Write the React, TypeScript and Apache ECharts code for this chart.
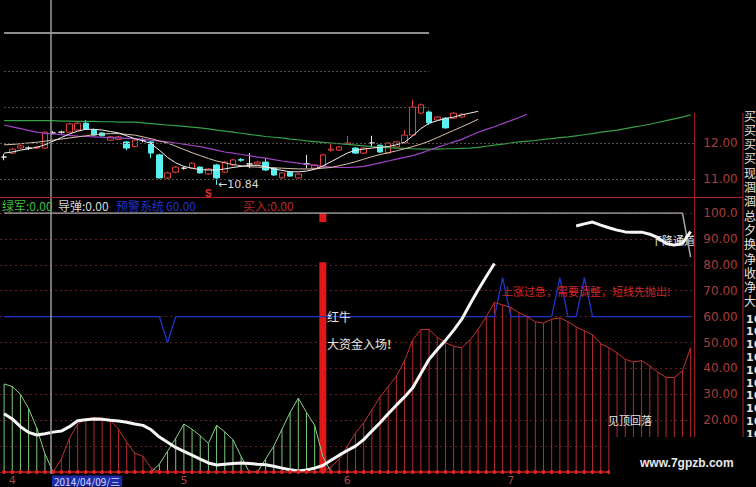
import React, { useEffect, useRef } from 'react';
import * as echarts from 'echarts';

// ---------- layout ----------
const CHART_W = 756;
const CHART_H = 487;
const BAR_COUNT = 85;
const BAR_STEP = 8.2;
const PLOT_LEFT = -2.3;
const PLOT_W = BAR_COUNT * BAR_STEP;
const PRICE_H = 197;
const PRICE_MIN = 10.5;
const PRICE_MAX = 10.5 + 197 / 36;
const IND_TOP = 213;
const IND_H = 259;
const AXIS_X = PLOT_LEFT + PLOT_W;
const barX = (i: number) => PLOT_LEFT + (i + 0.5) * BAR_STEP;

const CJK = "'Noto Sans CJK SC', 'Noto Sans', sans-serif";
const NUM = "'DejaVu Sans', 'Liberation Sans', sans-serif";

// ---------- data ----------
const categories = Array.from({ length: BAR_COUNT }, (_, i) => String(i + 1));
const monthTickIndex = [1, 22, 42, 62];
const monthTickLabels = ['4', '5', '6', '7'];
const cursorIndex = 6;
const cursorDate = '2014/04/09/三';

// [open, close, low, high]
const candles: number[][] = [
  [11.61, 11.61, 11.52, 11.70],
  [11.72, 11.83, 11.70, 11.86],
  [11.86, 11.92, 11.84, 11.95],
  [11.86, 11.86, 11.80, 11.91],
  [11.86, 11.89, 11.83, 11.92],
  [11.86, 12.30, 11.84, 12.32],
  [12.28, 12.28, 12.24, 12.33],
  [12.30, 12.30, 12.26, 12.34],
  [12.30, 12.53, 12.28, 12.56],
  [12.36, 12.55, 12.34, 12.58],
  [12.55, 12.39, 12.36, 12.64],
  [12.36, 12.22, 12.20, 12.40],
  [12.28, 12.20, 12.18, 12.30],
  [12.08, 12.17, 12.06, 12.19],
  [12.10, 12.17, 12.08, 12.20],
  [12.03, 11.86, 11.80, 12.05],
  [11.90, 12.08, 11.88, 12.10],
  [12.08, 12.08, 12.02, 12.14],
  [12.03, 11.72, 11.58, 12.06],
  [11.67, 11.03, 11.01, 11.70],
  [11.03, 11.17, 11.00, 11.20],
  [11.19, 11.33, 11.16, 11.36],
  [11.30, 11.30, 11.26, 11.34],
  [11.30, 11.44, 11.28, 11.47],
  [11.33, 11.17, 11.15, 11.35],
  [11.14, 11.28, 11.12, 11.30],
  [11.39, 11.03, 10.84, 11.42],
  [11.19, 11.47, 11.17, 11.50],
  [11.39, 11.53, 11.37, 11.56],
  [11.54, 11.52, 11.48, 11.58],
  [11.42, 11.42, 11.30, 11.72],
  [11.42, 11.47, 11.40, 11.50],
  [11.47, 11.25, 11.22, 11.58],
  [11.30, 11.11, 11.09, 11.33],
  [11.03, 11.17, 11.01, 11.19],
  [11.19, 11.08, 11.06, 11.21],
  [11.03, 11.14, 11.01, 11.16],
  [11.42, 11.42, 11.30, 11.67],
  [11.30, 11.39, 11.28, 11.41],
  [11.33, 11.67, 11.31, 11.70],
  [11.80, 11.83, 11.76, 11.97],
  [11.80, 11.89, 11.78, 11.91],
  [11.97, 12.00, 11.95, 12.20],
  [11.86, 11.72, 11.70, 11.88],
  [11.72, 11.86, 11.70, 11.88],
  [12.00, 12.00, 11.90, 12.20],
  [11.94, 11.75, 11.73, 11.96],
  [11.72, 12.00, 11.70, 12.02],
  [11.89, 12.03, 11.87, 12.05],
  [12.00, 12.22, 11.98, 12.36],
  [12.22, 13.00, 12.20, 13.20],
  [12.83, 13.06, 12.80, 13.10],
  [12.86, 12.56, 12.50, 12.90],
  [12.64, 12.72, 12.62, 12.75],
  [12.69, 12.42, 12.40, 12.72],
  [12.69, 12.83, 12.67, 12.86],
  [12.72, 12.80, 12.70, 12.83],
];

const ma5 = [
  11.72, 11.75, 11.80, 11.84, 11.88, 11.95, 12.05, 12.15, 12.25, 12.33,
  12.38, 12.38, 12.36, 12.32, 12.28, 12.20, 12.12, 12.06, 11.98, 11.80,
  11.60, 11.45, 11.35, 11.30, 11.26, 11.25, 11.25, 11.28, 11.32, 11.35,
  11.38, 11.38, 11.34, 11.28, 11.24, 11.20, 11.20, 11.22, 11.27, 11.36,
  11.48, 11.60, 11.72, 11.80, 11.83, 11.86, 11.88, 11.90, 11.95, 12.02,
  12.20, 12.40, 12.55, 12.62, 12.68, 12.72, 12.78, 12.83, 12.88,
];
const ma10 = [
  11.95, 11.96, 11.98, 12.00, 12.02, 12.05, 12.08, 12.11, 12.14, 12.17,
  12.20, 12.23, 12.25, 12.26, 12.26, 12.24, 12.22, 12.17, 12.12, 12.06,
  12.00, 11.91, 11.82, 11.73, 11.65, 11.57, 11.50, 11.45, 11.40, 11.37,
  11.34, 11.33, 11.32, 11.31, 11.30, 11.29, 11.28, 11.28, 11.28, 11.30,
  11.32, 11.37, 11.42, 11.48, 11.55, 11.62, 11.68, 11.73, 11.78, 11.84,
  11.90, 11.97, 12.05, 12.15, 12.25, 12.35, 12.45, 12.55, 12.66,
];
const ma30 = [
  12.50, 12.45, 12.40, 12.35, 12.30, 12.27, 12.25, 12.23, 12.21, 12.19,
  12.18, 12.17, 12.16, 12.15, 12.14, 12.13, 12.12, 12.10, 12.08, 12.05,
  12.03, 12.00, 11.97, 11.93, 11.90, 11.85, 11.80, 11.75, 11.72, 11.68,
  11.65, 11.61, 11.58, 11.54, 11.50, 11.47, 11.44, 11.41, 11.38, 11.35,
  11.33, 11.32, 11.32, 11.33, 11.35, 11.40, 11.45, 11.50, 11.55, 11.60,
  11.65, 11.72, 11.80, 11.88, 11.95, 12.03, 12.10, 12.20, 12.30, 12.38,
  12.45, 12.54, 12.62, 12.71, 12.80,
];
const ma60 = [
  12.62, 12.62, 12.62, 12.62, 12.62, 12.62, 12.62, 12.61, 12.61, 12.60,
  12.60, 12.60, 12.59, 12.59, 12.58, 12.58, 12.58, 12.56, 12.54, 12.52,
  12.50, 12.48, 12.46, 12.44, 12.42, 12.39, 12.36, 12.33, 12.30, 12.27,
  12.24, 12.21, 12.18, 12.16, 12.14, 12.11, 12.09, 12.06, 12.04, 12.02,
  12.00, 11.98, 11.96, 11.94, 11.92, 11.90, 11.89, 11.87, 11.86, 11.85,
  11.84, 11.83, 11.83, 11.83, 11.84, 11.84, 11.85, 11.86, 11.88, 11.91,
  11.94, 11.97, 12.00, 12.03, 12.05, 12.07, 12.10, 12.12, 12.15, 12.17,
  12.20, 12.23, 12.26, 12.30, 12.33, 12.36, 12.40, 12.44, 12.48, 12.52,
  12.57, 12.62, 12.67, 12.72, 12.78,
];

const lowMarkIndex = 26;
const lowMarkPrice = 10.84;
const sellMarkIndex = 25;
const sellMarkPrice = 10.6;

// indicator panel
const redHist: (number | null)[] = [
  null, null, null, null, null, null,
  0, 5, 13, 18.5, 20.5, 21, 20.8, 20, 16.5, 11.5, 7.3, 6, 1.5, 0,
  null, null, null, null, null, null, null, null, null, null,
  null, null, null, null, null, null, null, null, null,
  0, 2, 5, 10, 15, 19, 24, 29, 33, 37, 43, 51, 55, 55, 52, 50, 48.5, 48, 51, 55,
  60, 65.5, 64.5, 63.5, 61.5, 60, 58, 57.5, 59, 59.5, 58, 56, 54.5, 53, 49.5, 48,
  46, 43.5, 42.5, 43, 41, 38.5, 36.5, 36.5, 39, 48,
];
const greenHist: (number | null)[] = [
  34, 33, 30, 24.5, 17, 7, 0,
  null, null, null, null, null, null, null, null, null, null, null,
  0, 3, 8, 13, 18.5, 16.5, 14, 11, 18, 15.5, 12.5, 6, 0,
  0, 5, 10, 16.5, 23, 28.5, 23, 18, 6, 0,
  null, null, null, null, null, null, null, null, null, null, null,
  null, null, null, null, null, null, null, null, null, null, null,
  null, null, null, null, null, null, null, null, null, null, null,
  null, null, null, null, null, null, null, null, null, null, null,
];
const trendLine: (number | null)[] = [
  22.5, 20.5, 17.5, 15.3, 14.3, 14.8, 15.4, 15.8, 17.5, 19.8,
  20.2, 20.5, 20.4, 20, 19.7, 19.2, 18.5, 18, 16.3, 13.5,
  11.5, 9.5, 8, 6.5, 5, 3.5, 2.7, 3, 3.3, 3.5,
  3.3, 3, 2.8, 2.2, 1.5, 0.9, 0.4, 0.8, 1.5, 2.5,
  4.5, 6.5, 8.3, 10, 12.5, 15.8, 19, 22.5, 25.8, 29,
  32.5, 38, 43.5, 47.3, 50.8, 54.7, 59, 64.8, 70.3, 75.5,
  80.5,
  null, null, null, null, null, null, null, null, null,
  95, 95.8, 96.5, 95.3, 94.3, 93.4, 92.7, 92.6, 92.6, 91.8,
  90.5, 88.2, 87.6, 88.3, 92.8,
];
const alertLevel = 60;
const alertSpikeIndex = [20, 61, 68, 71];
const alertSpikeValue = [50, 75, 75, 75];
const ceilingLevel = 100;
const ceilingEndValue = 83;
const signalIndex = 39;
const signalValue = 81;
const signalCapFrom = 96.5;
const signalCapTo = 100;

const alertLine = categories.map((_, i) => {
  const s = alertSpikeIndex.indexOf(i);
  return s >= 0 ? alertSpikeValue[s] : alertLevel;
});
const ceilingLine = categories.map((_, i) => (i === BAR_COUNT - 1 ? ceilingEndValue : ceilingLevel));
const baseLine = categories.map(() => 0);
const onlyAt = (v: number) => categories.map((_, i) => (i === signalIndex ? v : null));

const sideChars = ['买', '买', '买', '买', '现', '涸', '涸', '总', '夕', '换', '净', '收', '净', '大'];
const sideDigits = ['16', '16', '16', '16', '16', '16', '16', '16', '16', '16'];

const monthLabelAt = (i: number) => {
  const k = monthTickIndex.indexOf(i);
  return k >= 0 ? monthTickLabels[k] : '';
};

function buildOption(): any {
  const graphic: any[] = [];
  // panel frame lines
  graphic.push({ type: 'line', z: 20, shape: { x1: 0, y1: 197.5, x2: 743, y2: 197.5 }, style: { stroke: '#b02424', lineWidth: 1 } });
  graphic.push({ type: 'line', z: 20, shape: { x1: AXIS_X, y1: 113, x2: AXIS_X, y2: 472 }, style: { stroke: '#b02424', lineWidth: 1 } });
  graphic.push({ type: 'line', z: 20, shape: { x1: 743, y1: 113, x2: 743, y2: 472 }, style: { stroke: '#b02424', lineWidth: 1 } });
  // crosshair
  const cx = barX(cursorIndex);
  graphic.push({ type: 'line', z: 15, shape: { x1: cx, y1: 0, x2: cx, y2: 474 }, style: { stroke: '#9a9a9a', lineWidth: 1.5 } });

  // header row
  const header = [
    { x: 2, text: '绿军:0.00', fill: '#3fbf46' },
    { x: 58, text: '导弹:0.00', fill: '#d8d8d8' },
    { x: 116, text: '预警系统', fill: '#2233c8' },
    { x: 166, text: '60.00', fill: '#2233c8' },
    { x: 243, text: '买入:0.00', fill: '#b8282a' },
  ];
  header.forEach((h) =>
    graphic.push({ type: 'text', z: 20, x: h.x, y: 205, style: { text: h.text, fill: h.fill, font: `12px ${CJK}`, verticalAlign: 'middle' } })
  );

  // annotations
  graphic.push({ type: 'text', z: 20, x: 327, y: 316, style: { text: '红牛', fill: '#e6e6e6', font: `12px ${CJK}`, verticalAlign: 'middle' } });
  graphic.push({
    type: 'text', z: 20, x: 327, y: 343,
    style: { text: '{a|大资金入场}{b|!}', rich: { a: { fill: '#e6e6e6', font: `12px ${CJK}` }, b: { fill: '#f0d070', font: `bold 12px ${CJK}` } }, verticalAlign: 'middle' },
  });
  graphic.push({ type: 'text', z: 20, x: 502, y: 291, style: { text: '上涨过急，需要调整，短线先抛出!', fill: '#d42626', font: `11px ${CJK}`, verticalAlign: 'middle' } });
  graphic.push({ type: 'text', z: 1, x: 651, y: 240, style: { text: '下降通道', fill: '#e6e6e6', font: `11px ${CJK}`, verticalAlign: 'middle' } });
  graphic.push({ type: 'text', z: 20, x: 608, y: 420, style: { text: '见顶回落', fill: '#e6e6e6', font: `11px ${CJK}`, verticalAlign: 'middle' } });

  // side column, running past the page edge
  sideChars.forEach((c, i) =>
    graphic.push({ type: 'text', z: 20, x: 744, y: 115 + i * 14.3, style: { text: c, fill: '#e4e4e4', font: `12px ${CJK}`, lineHeight: 12, verticalAlign: 'middle' } })
  );
  sideDigits.forEach((d, i) =>
    graphic.push({ type: 'text', z: 20, x: 746, y: 319 + i * 12.8, style: { text: d, fill: '#e4e4e4', font: `bold 11px ${NUM}`, lineHeight: 11, verticalAlign: 'middle' } })
  );

  // date tag at the cursor
  graphic.push({
    type: 'text', z: 20, x: cx + 1, y: 481,
    style: { text: cursorDate, fill: '#d6dcff', font: `10px ${CJK}`, verticalAlign: 'middle', backgroundColor: '#1d2aa8', padding: [1, 2, 0, 2] },
  });

  // bottom-right watermark block
  graphic.push({ type: 'rect', z: 100, shape: { x: 610, y: 437, width: 146, height: 50 }, style: { fill: '#000' } });
  graphic.push({ type: 'text', z: 101, x: 640, y: 463, style: { text: 'www.7gpzb.com', fill: '#e8e8e8', font: `bold 12px 'Liberation Sans', sans-serif`, verticalAlign: 'middle' } });

  const near = (a: number, b: number) => Math.abs(a - b) < 1e-6;

  return {
    backgroundColor: '#000',
    animation: false,
    graphic,
    grid: [
      { left: PLOT_LEFT, top: 0, width: PLOT_W, height: PRICE_H },
      { left: PLOT_LEFT, top: IND_TOP, width: PLOT_W, height: IND_H },
    ],
    xAxis: [
      { type: 'category', gridIndex: 0, data: categories, show: false },
      {
        type: 'category', gridIndex: 1, data: categories,
        axisLine: { show: false }, axisTick: { show: false }, splitLine: { show: false },
        axisLabel: { interval: 0, formatter: (_v: string, i: number) => monthLabelAt(i), color: '#a84444', fontSize: 11, margin: 3, fontFamily: NUM },
      },
      { type: 'category', gridIndex: 1, data: categories, show: false },
    ],
    yAxis: [
      {
        type: 'value', gridIndex: 0, position: 'right', min: PRICE_MIN, max: PRICE_MAX, interval: 0.5,
        splitLine: { show: false }, axisLine: { show: false }, axisTick: { show: false },
        axisLabel: {
          align: 'right', margin: 43, color: '#a83c3c', fontSize: 12, fontFamily: NUM,
          formatter: (v: number) => (near(v, 11) || near(v, 12) ? v.toFixed(2) : ''),
        },
      },
      {
        type: 'value', gridIndex: 1, position: 'right', min: 0, max: 100, interval: 10,
        splitLine: { show: true, lineStyle: { color: '#6a1e1e', type: [2, 3], width: 1 } },
        axisLine: { show: false }, axisTick: { show: false },
        axisLabel: {
          align: 'right', margin: 43, color: '#a83c3c', fontSize: 12, fontFamily: NUM,
          formatter: (v: number) => (v < 20 ? '' : near(v, 100) ? '100.0' : v.toFixed(2)),
        },
      },
    ],
    series: [
      {
        type: 'candlestick', name: 'K', xAxisIndex: 0, yAxisIndex: 0, data: candles, barWidth: 6,
        itemStyle: { color: '#000', color0: '#5af0f0', borderColor: '#e0403c', borderColor0: '#5af0f0', borderColorDoji: '#e8e8e8', borderWidth: 1 },
        markLine: {
          silent: true, symbol: ['none', 'none'], label: { show: false },
          lineStyle: { color: '#4e4e4e', type: [2, 2], width: 1 },
          data: [
            { yAxis: 11 },
            { yAxis: 12 },
            [{ coord: [0, 13] }, { coord: [52, 13] }],
            [{ coord: [0, 14] }, { coord: [52, 14] }],
            [{ coord: [0, 15.05], lineStyle: { color: '#8e8e8e', type: 'solid', width: 2 } }, { coord: [52, 15.05] }],
          ],
        },
        markPoint: {
          silent: true,
          data: [
            {
              coord: [sellMarkIndex, sellMarkPrice], symbol: 'circle', symbolSize: 1, itemStyle: { color: 'transparent' },
              label: { show: true, position: 'inside', formatter: 'S', color: '#e53030', fontSize: 10, fontWeight: 'bold' },
            },
            {
              coord: [lowMarkIndex, lowMarkPrice], symbol: 'circle', symbolSize: 1, itemStyle: { color: 'transparent' },
              label: { show: true, position: 'right', distance: 1, formatter: '←' + lowMarkPrice.toFixed(2), color: '#d8d8d8', fontSize: 11, fontFamily: NUM },
            },
          ],
        },
      },
      { type: 'line', name: 'MA60', xAxisIndex: 0, yAxisIndex: 0, data: ma60, symbol: 'none', lineStyle: { color: '#35a046', width: 1.2 } },
      { type: 'line', name: 'MA30', xAxisIndex: 0, yAxisIndex: 0, data: ma30, symbol: 'none', lineStyle: { color: '#a044c4', width: 1.2 } },
      { type: 'line', name: 'MA10', xAxisIndex: 0, yAxisIndex: 0, data: ma10, symbol: 'none', lineStyle: { color: '#dcc0a8', width: 1 } },
      { type: 'line', name: 'MA5', xAxisIndex: 0, yAxisIndex: 0, data: ma5, symbol: 'none', lineStyle: { color: '#f0f0f0', width: 1 } },

      { type: 'line', name: 'ceiling', xAxisIndex: 1, yAxisIndex: 1, data: ceilingLine, symbol: 'none', lineStyle: { color: '#a6a6a6', width: 1.5 } },
      { type: 'line', name: 'alert', xAxisIndex: 1, yAxisIndex: 1, data: alertLine, symbol: 'none', lineStyle: { color: '#2035c8', width: 1.3 } },
      { type: 'bar', name: 'redStem', xAxisIndex: 2, yAxisIndex: 1, data: redHist, barWidth: 1, barGap: '-100%', itemStyle: { color: '#b42a2c' } },
      { type: 'bar', name: 'greenStem', xAxisIndex: 2, yAxisIndex: 1, data: greenHist, barWidth: 1, barGap: '-100%', itemStyle: { color: '#7cc87c' } },
      { type: 'line', name: 'redEdge', xAxisIndex: 1, yAxisIndex: 1, data: redHist, symbol: 'none', connectNulls: false, lineStyle: { color: '#c43232', width: 1 } },
      { type: 'line', name: 'greenEdge', xAxisIndex: 1, yAxisIndex: 1, data: greenHist, symbol: 'none', connectNulls: false, lineStyle: { color: '#86d486', width: 1 } },
      { type: 'bar', name: 'sigLow', xAxisIndex: 1, yAxisIndex: 1, stack: 'sig', data: onlyAt(signalValue), barWidth: 7, itemStyle: { color: '#e01818' } },
      { type: 'bar', name: 'sigGap', xAxisIndex: 1, yAxisIndex: 1, stack: 'sig', data: onlyAt(signalCapFrom - signalValue), barWidth: 7, itemStyle: { color: 'transparent' } },
      { type: 'bar', name: 'sigCap', xAxisIndex: 1, yAxisIndex: 1, stack: 'sig', data: onlyAt(signalCapTo - signalCapFrom), barWidth: 7, itemStyle: { color: '#e01818' } },
      { type: 'line', name: 'trend', xAxisIndex: 1, yAxisIndex: 1, data: trendLine, symbol: 'none', connectNulls: false, z: 5, lineStyle: { color: '#f6f6f6', width: 3 } },
      {
        type: 'line', name: 'base', xAxisIndex: 1, yAxisIndex: 1, data: baseLine, symbol: 'circle', symbolSize: 4,
        showAllSymbol: true, clip: false, z: 6, itemStyle: { color: '#e42222' }, lineStyle: { color: '#c82020', width: 1.5 },
      },
    ],
  };
}

export default function App() {
  const ref = useRef<HTMLDivElement>(null);
  useEffect(() => {
    if (!ref.current) return;
    const chart = echarts.init(ref.current, undefined, { renderer: 'svg' });
    chart.setOption(buildOption());
    return () => chart.dispose();
  }, []);
  return (
    <div
      ref={ref}
      style={{ position: 'fixed', left: 0, top: 0, width: CHART_W, height: CHART_H, background: '#000' }}
    />
  );
}
